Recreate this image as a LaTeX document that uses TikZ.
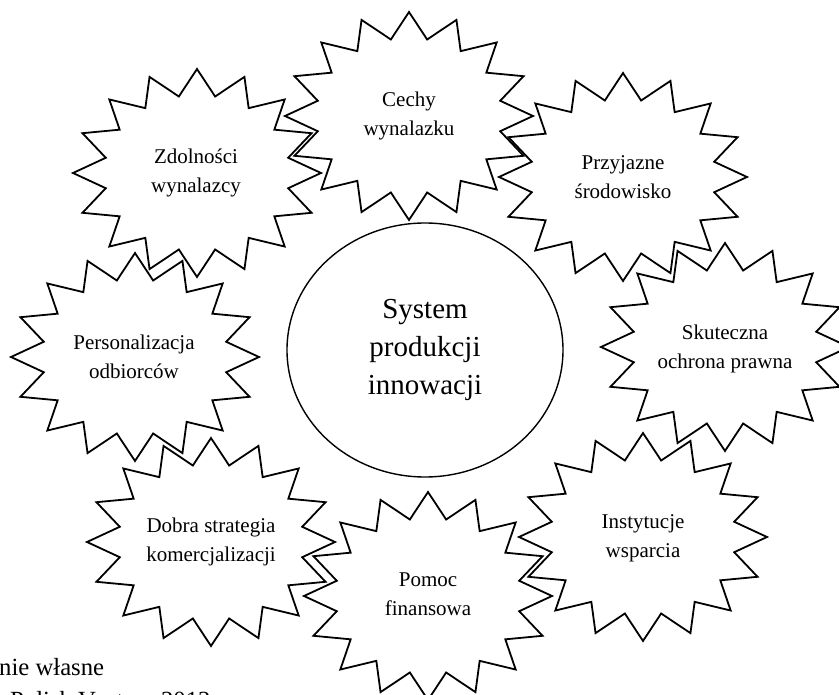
\documentclass[tikz,border=0pt]{standalone}
\usepackage{fontspec}
\setmainfont{Liberation Serif}
\usetikzlibrary{shapes.geometric}

% 16-point starburst with an elliptical outline: centre (#1,#2)
\newcommand\starburst[2]{%
  \begin{scope}[shift={(#1,#2)}, x=124pt, y=104pt]
    \draw[burstline] (90:1)
      \foreach \k in {1,...,31}{ -- ({90-11.25*\k}:{1-0.25*mod(\k,2)}) } -- cycle;
  \end{scope}}

\begin{document}
\begin{tikzpicture}[x=1pt, y=-1pt,
  burstline/.style={line width=1.8pt, line join=miter},
  burstlabel/.style={align=center, inner sep=0pt, font=\fontsize{21}{29}\selectfont},
  core/.style={draw, ellipse, line width=1.4pt, minimum width=276pt, minimum height=254pt,
               inner sep=0pt, align=center, font=\fontsize{29}{38}\selectfont},
  source/.style={anchor=base west, inner sep=0pt, font=\fontsize{24.7}{33}\selectfont}]
\clip (0,0) rectangle (839,695);

% outer starbursts
\starburst{197}{173}
\starburst{409}{116}
\starburst{623}{177}
\starburst{135}{357}
\starburst{725}{347}
\starburst{211}{542}
\starburst{428}{596}
\starburst{643}{537}

\node[burstlabel] (zdol) at (196,173) {Zdolności\\wynalazcy};
\node[burstlabel] (cech) at (409,116) {Cechy\\wynalazku};
\node[burstlabel] (przy) at (623,177) {Przyjazne\\środowisko};
\node[burstlabel] (pers) at (134,357) {Personalizacja\\odbiorców};
\node[burstlabel] (skut) at (725,349) {Skuteczna\\ochrona prawna};
\node[burstlabel] (dobr) at (211,542) {Dobra strategia\\komercjalizacji};
\node[burstlabel] (pomo) at (428,594) {Pomoc\\finansowa};
\node[burstlabel] (inst) at (643,538) {Instytucje\\wsparcia};

% central system
\node[core] (sys) at (425,350) {System\\produkcji\\innowacji};

% source note
\node[source] (src1) at (-1,675) {nie własne};
\node[source] (src2) at (10,708) {Polish Venture 2012};
\end{tikzpicture}
\end{document}
